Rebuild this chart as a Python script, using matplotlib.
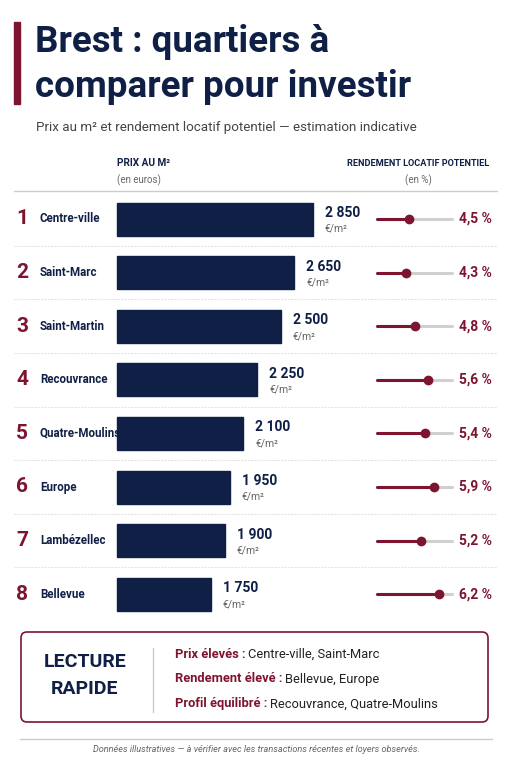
import matplotlib
matplotlib.use("Agg")
import matplotlib.pyplot as plt
from matplotlib.patches import Rectangle, FancyBboxPatch

names = ["Centre-ville", "Saint-Marc", "Saint-Martin", "Recouvrance",
         "Quatre-Moulins", "Europe", "Lambézellec", "Bellevue"]
prices = [2850, 2650, 2500, 2250, 2100, 1950, 1900, 1750]
yields = [4.5, 4.3, 4.8, 5.6, 5.4, 5.9, 5.2, 6.2]

NAVY = "#0f1f45"
RED = "#7d1430"
GREY = "#666666"

plt.rcParams["font.family"] = ["Roboto", "DejaVu Sans"]

fig = plt.figure(figsize=(5.11, 7.68), dpi=100)
ax = fig.add_axes([0, 0, 1, 1])
ax.set_xlim(0, 511)
ax.set_ylim(768, 0)
ax.axis("off")

# title
ax.add_patch(Rectangle((14, 22), 6, 82, color=RED))
ax.text(35, 42, "Brest : quartiers à", fontsize=26.5, weight="bold", color=NAVY, va="center")
ax.text(35, 87, "comparer pour investir", fontsize=26.5, weight="bold", color=NAVY, va="center")
ax.text(36, 127, "Prix au m² et rendement locatif potentiel — estimation indicative",
        fontsize=9.6, color="#444444", va="center")

# headers
ax.text(117, 163, "PRIX AU M²", fontsize=7.2, weight="bold", color=NAVY, va="center")
ax.text(117, 180, "(en euros)", fontsize=7, color=GREY, va="center")
ax.text(418, 163, "RENDEMENT LOCATIF POTENTIEL", fontsize=6.6, weight="bold", color=NAVY,
        va="center", ha="center")
ax.text(418, 180, "(en %)", fontsize=7, color=GREY, va="center", ha="center")
ax.plot([14, 497], [191, 191], color="#cccccc", lw=1)

y0, dy = 219, 53.6
for i, (n, p, r) in enumerate(zip(names, prices, yields)):
    y = y0 + i * dy
    ax.text(22, y, str(i + 1), fontsize=15, weight="bold", color=RED, va="center", ha="center")
    ax.text(40, y, n, fontsize=8.3, weight="bold", color=NAVY, va="center")
    w = (p - 736) * 0.0927
    ax.add_patch(Rectangle((117, y - 16.5), w, 33, color=NAVY))
    xe = 117 + w + 12
    ax.text(xe, y - 6, f"{p:,}".replace(",", " "), fontsize=10, weight="bold",
            color=NAVY, va="center")
    ax.text(xe, y + 10, "€/m²", fontsize=7.5, color=GREY, va="center")
    xd = 331 + 17.4 * r
    ax.plot([377, 452], [y, y], color="#d0d0d0", lw=2.2, solid_capstyle="round")
    ax.plot([377, xd], [y, y], color=RED, lw=2.2, solid_capstyle="round")
    ax.plot(xd, y, "o", color=RED, ms=6)
    ax.text(492, y, f"{r:.1f} %".replace(".", ","), fontsize=10, weight="bold",
            color=RED, va="center", ha="right")
    if i < len(names) - 1:
        ax.plot([14, 497], [y + dy / 2, y + dy / 2], color="#e4e4e4", lw=0.8, ls=(0, (2, 1)))

# summary box
ax.add_patch(FancyBboxPatch((21, 632), 467, 90, boxstyle="round,pad=0,rounding_size=6",
                            fc="white", ec=RED, lw=1.2))
ax.text(85, 662, "LECTURE", fontsize=14, weight="bold", color=NAVY, va="center", ha="center")
ax.text(85, 689, "RAPIDE", fontsize=14, weight="bold", color=NAVY, va="center", ha="center")
ax.plot([153, 153], [648, 712], color="#cccccc", lw=1)
lines = [("Prix élevés :", "Centre-ville, Saint-Marc"),
         ("Rendement élevé :", "Bellevue, Europe"),
         ("Profil équilibré :", "Recouvrance, Quatre-Moulins")]
fig.canvas.draw()
rend = fig.canvas.get_renderer()
for j, (a, b) in enumerate(lines):
    y = 654 + j * 25
    t = ax.text(175, y, a, fontsize=9.3, weight="bold", color=RED, va="center")
    bb = t.get_window_extent(rend)
    x1 = ax.transData.inverted().transform((bb.x1, 0))[0]
    ax.text(x1 + 3, y, b, fontsize=9.3, color="#222222", va="center")

ax.plot([20, 492], [739, 739], color="#cccccc", lw=1)
ax.text(256, 750, "Données illustratives — à vérifier avec les transactions récentes et loyers observés.",
        fontsize=6.6, style="italic", color=GREY, va="center", ha="center")

fig.savefig("out.png", dpi=100)
